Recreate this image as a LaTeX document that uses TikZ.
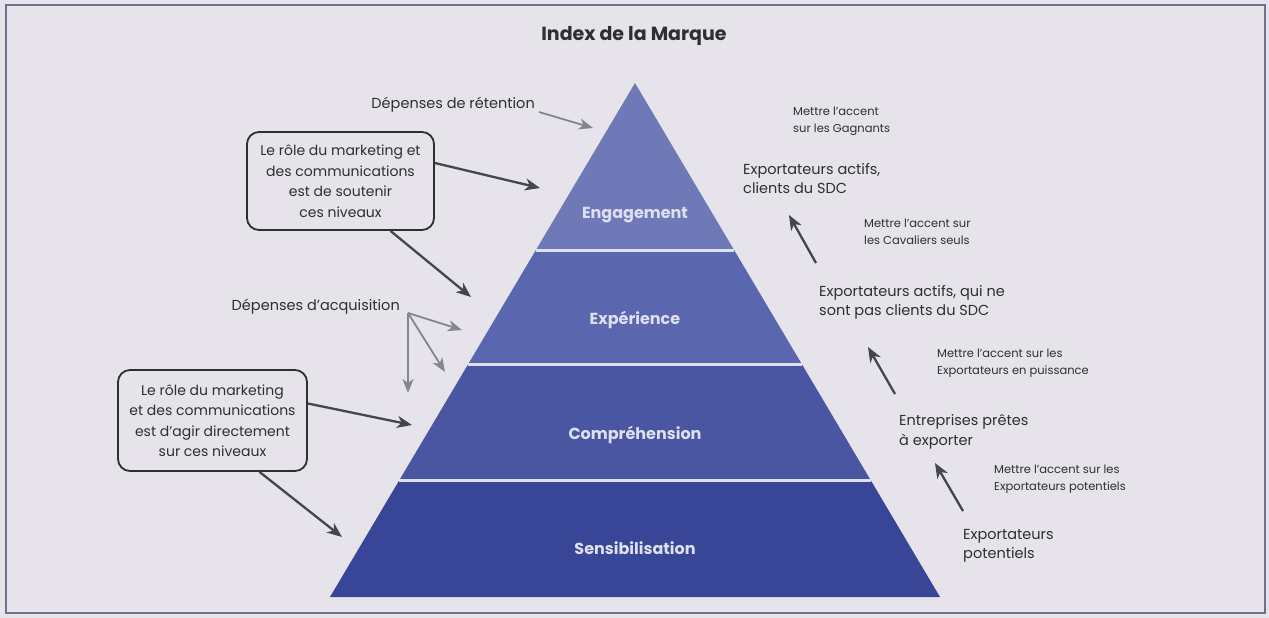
\documentclass[tikz,border=0pt]{standalone}
\usepackage{fontspec}
\setmainfont{Poppins}
\usetikzlibrary{arrows.meta,calc}
\definecolor{bg}{HTML}{E6E4EA}
\definecolor{frame}{HTML}{6E7090}
\definecolor{ink}{HTML}{2E2E33}
\definecolor{arrdark}{HTML}{45454C}
\definecolor{arrgray}{HTML}{85858C}
\definecolor{lvA}{HTML}{7079B8}
\definecolor{lvB}{HTML}{5A66AD}
\definecolor{lvC}{HTML}{4A56A2}
\definecolor{lvD}{HTML}{394596}
\definecolor{sep}{HTML}{DFE0EE}
\definecolor{lvltext}{HTML}{DEE0F0}
\begin{document}
\begin{tikzpicture}[x=1pt,y=-1pt,
  txt/.style={text=ink, inner sep=0pt, align=left},
  small/.style={txt, font=\fontsize{11.5}{16.5}\selectfont},
  medium/.style={txt, font=\fontsize{14.5}{19.5}\selectfont},
  boxtxt/.style={text=ink, align=center, font=\fontsize{14}{20.5}\selectfont,
     draw=ink, line width=1.8pt, rounded corners=12pt, inner sep=0pt},
  lvl/.style={text=lvltext, font=\bfseries\fontsize{16}{18}\selectfont, inner sep=0pt},
  darr/.style={draw=arrdark, line width=2.3pt, -{Stealth[length=15pt,width=12pt,inset=4.5pt]}},
  garr/.style={draw=arrgray, line width=1.8pt, -{Stealth[length=14pt,width=11pt,inset=4pt]}},
  sepline/.style={draw=sep, line width=3pt}]
\useasboundingbox (0,0) rectangle (1269,618);
\fill[bg] (0,0) rectangle (1269,618);
\draw[frame, line width=1.6pt] (6,5) rectangle (1265,613);

% pyramid
\coordinate (A) at (635,83);
\coordinate (BL) at (330,597);
\coordinate (BR) at (940,597);
\coordinate (L1) at ($(A)!0.3249!(BL)$);
\coordinate (R1) at ($(A)!0.3249!(BR)$);
\coordinate (L2) at ($(A)!0.5486!(BL)$);
\coordinate (R2) at ($(A)!0.5486!(BR)$);
\coordinate (L3) at ($(A)!0.7724!(BL)$);
\coordinate (R3) at ($(A)!0.7724!(BR)$);
\fill[lvA] (A) -- (R1) -- (L1) -- cycle;
\fill[lvB] (L1) -- (R1) -- (R2) -- (L2) -- cycle;
\fill[lvC] (L2) -- (R2) -- (R3) -- (L3) -- cycle;
\fill[lvD] (L3) -- (R3) -- (BR) -- (BL) -- cycle;
\draw[sepline] (L1) -- (R1);
\draw[sepline] (L2) -- (R2);
\draw[sepline] (L3) -- (R3);

\node[lvl] (eng) at (635,215) {Engagement};
\node[lvl] (exp) at (635,320) {Expérience};
\node[lvl] (comp) at (635,435) {Compréhension};
\node[lvl] (sens) at (635,548) {Sensibilisation};

% title
\node[text=ink, font=\bfseries\fontsize{19}{22}\selectfont, inner sep=0pt] (title) at (634,36) {Index de la Marque};

% left side
\node[medium, anchor=east] (ret) at (535,105) {Dépenses de rétention};
\coordinate (retend) at (593,128);
\draw[garr] ([shift={(4,7)}]ret.east) -- (retend);

\node[boxtxt, minimum width=187pt, minimum height=98pt] (b1) at (340.5,181)
  {Le rôle du marketing et\\des communications\\est de soutenir\\ces niveaux};
\coordinate (b1e1) at (540,188);
\coordinate (b1e2) at (471,297);
\draw[darr] ([shift={(0,-18)}]b1.east) -- (b1e1);
\draw[darr] ([shift={(50,0)}]b1.south) -- (b1e2);

\node[medium, anchor=east] (acq) at (400,307) {Dépenses d’acquisition};
\coordinate (hub) at (408,313);
\coordinate (acq1) at (462,330);
\coordinate (acq2) at (445,372);
\coordinate (acq3) at (408,393);
\draw[garr] (hub) -- (acq1);
\draw[garr] (hub) -- (acq2);
\draw[garr] (hub) -- (acq3);

\node[boxtxt, minimum width=189pt, minimum height=101pt] (b2) at (212.5,420.5)
  {Le rôle du marketing\\et des communications\\est d’agir directement\\sur ces niveaux};
\coordinate (b2e1) at (412,425);
\coordinate (b2e2) at (342,537);
\draw[darr] ([shift={(0,-17)}]b2.east) -- (b2e1);
\draw[darr] ([shift={(47,0)}]b2.south) -- (b2e2);

% right side
\node[small, anchor=west] (gag) at (793,121.5) {Mettre l’accent\\sur les Gagnants};
\node[medium, anchor=west] (ea1) at (743,178.5) {Exportateurs actifs,\\clients du SDC};
\node[small, anchor=west] (cav) at (864,232) {Mettre l’accent sur\\les Cavaliers seuls};
\node[medium, anchor=west] (ea2) at (819,302.5) {Exportateurs actifs, qui ne\\sont pas clients du SDC};
\node[small, anchor=west] (pui) at (937,363) {Mettre l’accent sur les\\Exportateurs en puissance};
\node[medium, anchor=west] (ent) at (899,432) {Entreprises prêtes\\à exporter};
\node[small, anchor=west] (pot) at (994,479) {Mettre l’accent sur les\\Exportateurs potentiels};
\node[medium, anchor=west] (ep) at (963,546) {Exportateurs\\potentiels};

\coordinate (r1s) at (816,263);
\coordinate (r1e) at (789,215);
\coordinate (r2s) at (895,394);
\coordinate (r2e) at (868,347);
\coordinate (r3s) at (963,511);
\coordinate (r3e) at (935,463);
\draw[darr] (r1s) -- (r1e);
\draw[darr] (r2s) -- (r2e);
\draw[darr] (r3s) -- (r3e);
\end{tikzpicture}
\end{document}
